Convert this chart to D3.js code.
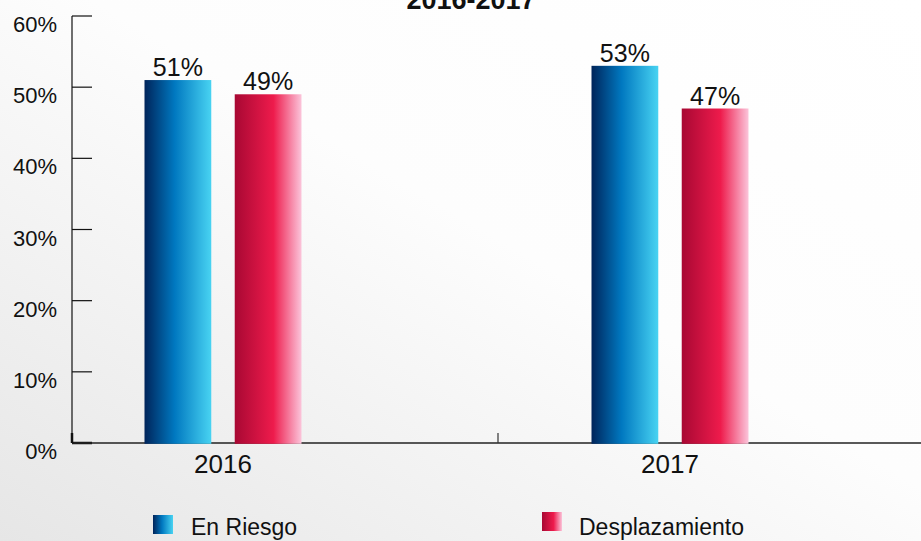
<!DOCTYPE html>
<html>
<head>
<meta charset="utf-8">
<script src="https://cdn.jsdelivr.net/npm/d3@7"></script>
<style>
  html, body { margin: 0; padding: 0; }
  body { width: 921px; height: 541px; overflow: hidden; }
  text { font-family: "Liberation Sans", Arial, sans-serif; fill: #111; }
</style>
</head>
<body>
<div id="chart"></div>
<script>
// data
var years = ["2016", "2017"];
var series = ["En Riesgo", "Desplazamiento"];
var enRiesgo = [51, 53];
var desplazamiento = [49, 47];
var yTicks = [0, 10, 20, 30, 40, 50, 60];

var W = 921, H = 541;

var svg = d3.select("#chart")
	.append("svg")
	.attr("width", W)
	.attr("height", H);

var defs = svg.append("defs");

// background
var bg = defs.append("linearGradient")
	.attr("id", "bg")
	.attr("x1", "0%").attr("y1", "100%")
	.attr("x2", "100%").attr("y2", "0%");
bg.append("stop").attr("offset", "0%").attr("stop-color", "#e6e6e6");
bg.append("stop").attr("offset", "55%").attr("stop-color", "#fdfdfd");
bg.append("stop").attr("offset", "100%").attr("stop-color", "#ffffff");
svg.append("rect").attr("width", W).attr("height", H).attr("fill", "url(#bg)");

// bar gradients
var grads = [
	{ id: "gBlue", stops: [["0%", "#00245a"], ["45%", "#0078c0"], ["100%", "#48d3f2"]] },
	{ id: "gRed", stops: [["0%", "#a80833"], ["58%", "#ee1b4c"], ["100%", "#fbc4da"]] }
];
grads.forEach(function (g) {
	var lg = defs.append("linearGradient").attr("id", g.id)
		.attr("x1", "0%").attr("x2", "100%").attr("y1", "0%").attr("y2", "0%");
	g.stops.forEach(function (s) {
		lg.append("stop").attr("offset", s[0]).attr("stop-color", s[1]);
	});
});

var x0 = d3.scaleBand().domain(years).range([-0.5, 893.5]);
var x1 = d3.scaleBand().domain(series).range([-78.5, 78.5]).paddingInner(0.26);
var y = d3.scaleLinear().domain([0, 60]).range([443, 16]);

// title (cut at top)
svg.append("text")
	.attr("x", 471)
	.attr("y", 9)
	.attr("text-anchor", "middle")
	.attr("font-size", "27px")
	.attr("font-weight", "bold")
	.text("2016-2017");

// y axis
svg.append("line")
	.attr("x1", 72).attr("x2", 72)
	.attr("y1", y(60)).attr("y2", y(0))
	.attr("stroke", "#111").attr("stroke-width", 1.2);
svg.selectAll(".ytick")
	.data(yTicks)
	.enter().append("line")
	.attr("x1", 72).attr("x2", 92)
	.attr("y1", function (d) { return y(d); })
	.attr("y2", function (d) { return y(d); })
	.attr("stroke", "#111")
	.attr("stroke-width", function (d) { return d === 0 ? 2.5 : 1.2; });
svg.selectAll(".ylab")
	.data(yTicks)
	.enter().append("text")
	.attr("x", 57)
	.attr("y", function (d) { return y(d) + 16; })
	.attr("text-anchor", "end")
	.attr("font-size", "22px")
	.text(function (d) { return d + "%"; });

// x axis
svg.append("line")
	.attr("x1", 72).attr("x2", W)
	.attr("y1", y(0)).attr("y2", y(0))
	.attr("stroke", "#222").attr("stroke-width", 1.6);
svg.append("line")
	.attr("x1", 72).attr("x2", 72)
	.attr("y1", y(0) - 10).attr("y2", y(0))
	.attr("stroke", "#111").attr("stroke-width", 2.5);
svg.append("line")
	.attr("x1", 498).attr("x2", 498)
	.attr("y1", y(0) - 10).attr("y2", y(0))
	.attr("stroke", "#333").attr("stroke-width", 1.2);

svg.selectAll(".xlab")
	.data(years)
	.enter().append("text")
	.attr("x", function (d) { return x0(d) + x0.bandwidth() / 2; })
	.attr("y", 473)
	.attr("text-anchor", "middle")
	.attr("font-size", "26px")
	.text(function (d) { return d; });

// bars
var values = [enRiesgo, desplazamiento];
var fills = ["url(#gBlue)", "url(#gRed)"];
years.forEach(function (yr, i) {
	var cx = x0(yr) + x0.bandwidth() / 2;
	series.forEach(function (s, j) {
		var v = values[j][i];
		svg.append("rect")
			.attr("x", cx + x1(s))
			.attr("y", y(v))
			.attr("width", x1.bandwidth())
			.attr("height", y(0) - y(v) + 0.8)
			.attr("fill", fills[j]);
		svg.append("text")
			.attr("x", cx + x1(s) + x1.bandwidth() / 2)
			.attr("y", y(v) - 4)
			.attr("text-anchor", "middle")
			.attr("font-size", "25px")
			.text(v + "%");
	});
});

// legend
var legend = [
	{ name: series[0], fill: fills[0], sx: 153, sy: 515, tx: 191 },
	{ name: series[1], fill: fills[1], sx: 542, sy: 512, tx: 579 }
];
legend.forEach(function (l) {
	svg.append("rect")
		.attr("x", l.sx).attr("y", l.sy)
		.attr("width", 20).attr("height", 19)
		.attr("fill", l.fill);
	svg.append("text")
		.attr("x", l.tx)
		.attr("y", 535)
		.attr("font-size", "23px")
		.text(l.name);
});
</script>
</body>
</html>
